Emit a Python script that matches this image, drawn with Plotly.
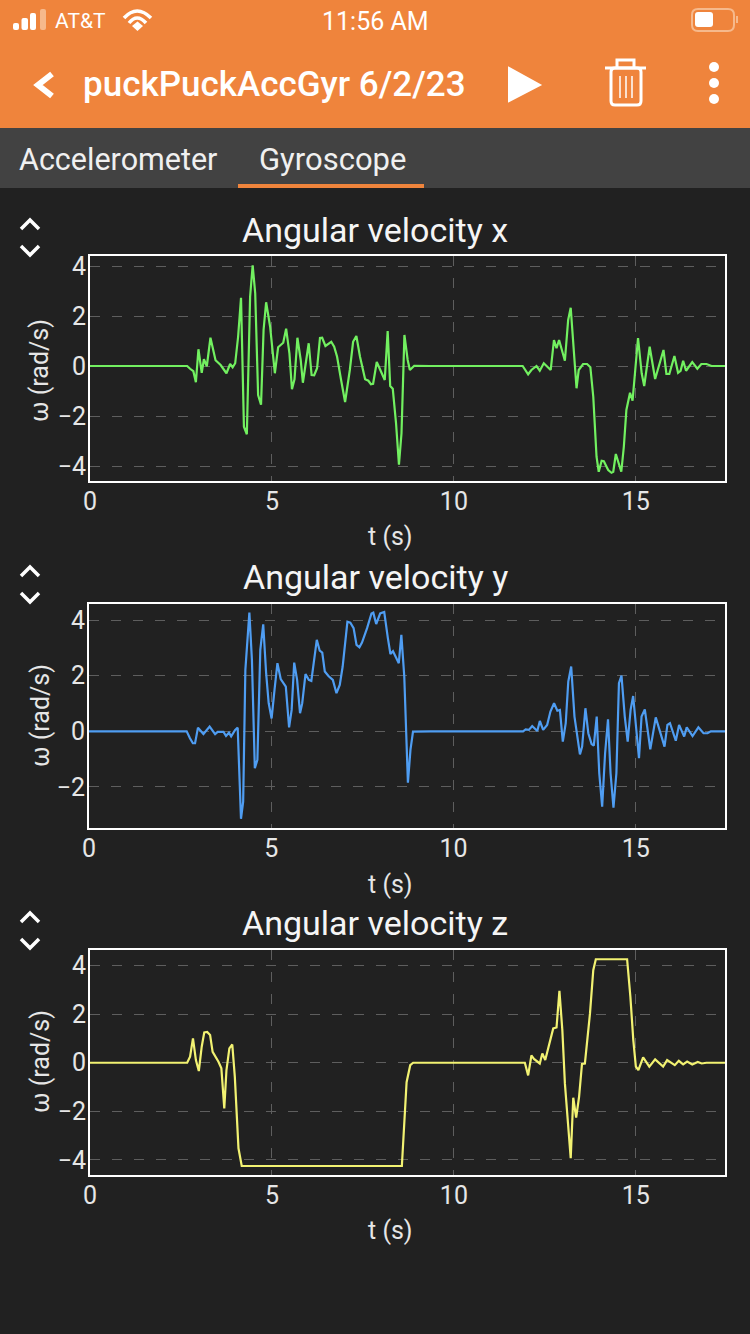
import plotly.graph_objects as go

t_x = [0,2.67,2.75,2.84,2.91,2.98,3.07,3.13,3.21,3.31,3.45,3.59,3.75,3.85,3.92,3.99,4.07,4.15,4.23,4.31,4.40,4.47,4.54,4.62,4.70,4.77,4.84,4.95,5.08,5.17,5.31,5.39,5.48,5.55,5.62,5.70,5.79,5.85,6.01,6.09,6.16,6.24,6.32,6.38,6.47,6.63,6.71,6.79,6.90,7.01,7.14,7.23,7.32,7.42,7.56,7.65,7.72,7.78,7.88,7.94,8.10,8.18,8.25,8.32,8.41,8.49,8.56,8.64,8.73,8.79,8.91,9.34,
       11.89,12.04,12.13,12.27,12.36,12.47,12.66,12.75,12.82,12.89,13.05,13.14,13.21,13.37,13.43,13.55,13.66,13.75,13.83,13.92,13.98,14.06,14.12,14.24,14.33,14.38,14.45,14.6,14.67,14.74,14.84,14.91,15.06,15.16,15.23,15.38,15.53,15.76,15.84,15.92,16.06,16.16,16.23,16.3,16.38,16.55,16.69,16.8,16.94,17.08,17.45]
w_x = [0,0,-.11,-.21,-.65,.67,-.27,.27,-.01,1.13,.23,.04,-.29,.08,-.05,.11,1.17,2.73,-2.43,-2.73,2.77,4.03,2.91,-1.16,-1.55,1.44,2.55,1.57,-.29,.75,.93,1.49,.51,-.93,-.53,1.13,.24,-.67,.91,-.36,-.37,-.09,1.12,1.13,.80,.97,.77,.37,-.56,-1.44,-.16,.97,1.2,.37,-.53,-.59,-.73,-.71,.16,-.03,-.56,1.4,-.8,-.91,-2.29,-3.95,-2.69,1.24,.24,-.16,.01,0,
       0,-.33,-.16,0,-.19,.11,-.16,1.04,.71,1.04,.21,1.84,2.33,-.89,-.16,.08,.08,-.05,-1.23,-3.63,-4.23,-3.79,-3.81,-4.16,-4.27,-4.23,-3.52,-4.23,-3.23,-1.76,-1.07,-1.39,1.12,-.29,-.8,.77,-.52,.64,-.32,-.32,.4,-.27,-.19,.21,-.19,.16,-.11,.08,.08,0,0]

t_y = [0,2.68,2.77,2.85,2.91,2.99,3.14,3.31,3.46,3.53,3.69,3.76,3.84,3.9,4.01,4.08,4.17,4.23,4.29,4.4,4.47,4.55,4.62,4.7,4.78,4.86,4.93,5.01,5.09,5.17,5.26,5.4,5.49,5.56,5.63,5.71,5.79,5.85,5.94,6.03,6.1,6.25,6.33,6.4,6.47,6.57,6.69,6.79,6.88,6.96,7.09,7.17,7.26,7.34,7.42,7.49,7.63,7.75,7.8,7.88,7.99,8.1,8.2,8.27,8.34,8.5,8.57,8.65,8.75,8.82,8.89,9.37,
       11.91,11.98,12.07,12.16,12.3,12.37,12.46,12.57,12.66,12.76,12.85,12.92,13.0,13.08,13.15,13.23,13.32,13.4,13.47,13.53,13.62,13.7,13.79,13.85,13.93,14.0,14.08,14.16,14.24,14.31,14.39,14.47,14.54,14.61,14.7,14.78,14.86,14.93,15.01,15.09,15.16,15.25,15.4,15.55,15.79,15.87,15.94,16.1,16.19,16.33,16.4,16.56,16.72,16.86,16.97,17.06,17.45]
w_y = [0,0,-.25,-.43,-.43,.13,-.1,.17,-.1,-.02,-.02,-.17,-.05,-.18,.05,.13,-3.15,-2.53,2.21,4.27,2.57,-1.33,-1.03,2.93,3.85,2.09,1.01,.46,1.49,2.45,1.88,1.61,.14,.77,2.47,1.85,.65,1.01,2.06,1.85,1.81,3.29,2.9,2.83,2.15,1.99,1.85,1.37,1.67,2.33,3.94,3.91,3.71,3.11,3.02,3.19,3.71,4.24,4.27,3.86,4.24,4.29,3.35,2.78,2.88,2.45,3.47,1.97,-1.85,-.67,-.01,0,
       0,.07,.05,.19,.01,.37,.05,.23,.71,1.01,.74,.77,-.37,.29,1.79,2.33,.53,-.31,-.83,-.55,.83,-.07,-.46,-.52,.53,-1.51,-2.71,-.79,.43,-1.51,-2.75,-1.51,1.73,2.0,.53,-.37,.77,1.27,.05,-.97,.53,.79,-.65,.5,-.55,.23,.29,-.34,.23,-.19,.14,-.17,.14,-.07,-.07,0,0]

t_z = [0,2.67,2.75,2.83,2.91,2.99,3.07,3.14,3.22,3.3,3.37,3.53,3.61,3.69,3.75,3.83,3.91,3.98,4.08,4.17,8.57,8.62,8.7,8.8,8.88,
       11.95,12.04,12.13,12.2,12.36,12.43,12.51,12.73,12.82,12.9,12.98,13.05,13.21,13.28,13.36,13.44,13.52,13.6,13.74,13.83,13.9,14.76,14.85,14.93,15.0,15.07,15.2,15.37,15.53,15.75,15.86,16.07,16.18,16.3,16.41,16.55,16.7,16.81,16.94,17.45]
w_z = [0,0,.25,1.0,.11,-.34,.66,1.25,1.27,1.14,.45,.04,-.23,-1.88,-.3,.59,.75,-.58,-3.52,-4.25,-4.25,-3.0,-.8,-.1,0,
       0,-.52,.3,.16,-.03,.38,.11,1.41,1.45,2.96,1.34,-.85,-3.93,-1.44,-2.26,-1.4,-.05,-.03,2.03,3.81,4.26,4.26,2.71,.93,-.16,-.3,.22,-.16,.14,-.16,.11,-.1,.08,-.07,.05,-.07,.03,-.03,0,0]

x_ticks = [0, 5, 10, 15]
y_ticks = [[-4, -2, 0, 2, 4], [-2, 0, 2, 4], [-4, -2, 0, 2, 4]]
y_ranges = [[-4.6, 4.4], [-3.48, 4.58], [-4.62, 4.64]]
titles = ["Angular velocity x", "Angular velocity y", "Angular velocity z"]
colors = ["#72F060", "#4F9DF2", "#F2F272"]
series = [(t_x, w_x), (t_y, w_y), (t_z, w_z)]
boxes = [(90, 725, 256, 481), (89, 725, 604, 828), (90, 725, 950, 1175)]

W, H = 750, 1334
FONT = "Roboto"
def px(x): return x / W
def py(y): return 1 - y / H
def c(a, b): return f"{px(a):.5f},{py(b):.5f}"
def P(*pts, close=False):
    return "M" + " L".join(c(a, b) for a, b in pts) + (" Z" if close else "")
def rr(x0, y0, x1, y1, r):
    return (f"M{c(x0+r,y0)} L{c(x1-r,y0)} Q{c(x1,y0)} {c(x1,y0+r)} L{c(x1,y1-r)} Q{c(x1,y1)} {c(x1-r,y1)} "
            f"L{c(x0+r,y1)} Q{c(x0,y1)} {c(x0,y1-r)} L{c(x0,y0+r)} Q{c(x0,y0)} {c(x0+r,y0)} Z")

fig = go.Figure()
layout = dict(width=W, height=H, margin=dict(l=0, r=0, t=0, b=0), autosize=False,
              paper_bgcolor="#212121", plot_bgcolor="#212121", showlegend=False)
for i, ((tv, wv), col, b, yt, yr) in enumerate(zip(series, colors, boxes, y_ticks, y_ranges)):
    n = "" if i == 0 else str(i + 1)
    fig.add_trace(go.Scatter(x=tv, y=wv, mode="lines", line=dict(color=col, width=2.2), xaxis=f"x{n}", yaxis=f"y{n}", hoverinfo="skip"))
    common = dict(zeroline=False, automargin=False, showgrid=True, gridcolor="#5E5E5E", griddash="10px,12px", gridwidth=1.2,
                  showline=True, mirror=True, linecolor="#FFFFFF", linewidth=2, ticks="",
                  tickfont=dict(family=FONT, size=25, color="#E6E6E6"))
    layout[f"xaxis{n}"] = dict(domain=[px(b[0]), px(b[1])], range=[0, 17.45], anchor=f"y{n}", tickvals=x_ticks, ticklabelstandoff=-3, **common)
    layout[f"yaxis{n}"] = dict(domain=[py(b[3]), py(b[2])], range=yr, anchor=f"x{n}", tickvals=yt, ticklabelstandoff=-3, **common)

shapes = []
def rect(x0, y0, x1, y1, fill):
    shapes.append(dict(type="rect", xref="paper", yref="paper", x0=px(x0), x1=px(x1), y0=py(y0), y1=py(y1),
                       fillcolor=fill, line=dict(width=0), layer="below"))
def path(d, color, lw=0, fill=None):
    shapes.append(dict(type="path", xref="paper", yref="paper", path=d, fillcolor=fill or "rgba(0,0,0,0)",
                       line=dict(color=color, width=lw), layer="above"))

rect(0, 0, W, 128, "#EF843C")
rect(0, 128, W, 188, "#424242")
rect(238, 184, 424, 188, "#EF843C")
for x0, x1, top, col in [(13, 19, 23, "#FFFFFF"), (21.5, 28, 18, "#FFFFFF"), (30, 36, 13, "#FFFFFF"), (40, 46, 9, "#F6B98C")]:
    path(rr(x0, top, x1, 30, 2), col, 0, col)
# wifi
path(f"M{c(124,18)} Q{c(137,4)} {c(151,18)}", "#FFFFFF", 3.5)
path(f"M{c(129,23)} Q{c(137,13)} {c(146,23)}", "#FFFFFF", 3.5)
path(P((132, 26), (137.5, 21.5), (143, 26), (137.5, 31), close=True), "#FFFFFF", 0, "#FFFFFF")
# battery
path(rr(692, 9, 734, 31, 6), "#F6B98C", 2)
path(rr(695, 12, 713, 27, 3), "#FFFFFF", 0, "#FFFFFF")
rect(736, 16, 738, 23, "#F6B98C")
# back chevron
path(P((52, 74), (38, 85), (52, 96)), "#FFFFFF", 6)
# play
path(P((509, 68), (540, 85), (509, 101), close=True), "#FFFFFF", 2, "#FFFFFF")
# trash
path(P((605, 68), (646, 68)), "#FFFFFF", 3)
path(P((617, 68), (617, 60), (634, 60), (634, 68)), "#FFFFFF", 3)
path(rr(611, 68, 641, 105, 4), "#FFFFFF", 3)
for x in (620, 626, 632):
    path(P((x, 76), (x, 98)), "#FFFFFF", 1.5)
# menu dots
for y in (67, 83, 99):
    shapes.append(dict(type="circle", xref="paper", yref="paper", x0=px(709), x1=px(719), y0=py(y - 5), y1=py(y + 5),
                       fillcolor="#FFFFFF", line=dict(width=0)))
# stepper chevrons
for y in (224, 571, 917):
    path(P((21, y + 5), (30, y - 4), (39, y + 5)), "#FFFFFF", 3.5)
    path(P((21, y + 22), (30, y + 31), (39, y + 22)), "#FFFFFF", 3.5)

def text(x, y, s, size, color="#FFFFFF", anchor="left", weight=None, angle=0):
    f = dict(family=FONT, size=size, color=color)
    if weight: f["weight"] = weight
    return dict(xref="paper", yref="paper", x=px(x), y=py(y), text=s, showarrow=False, xanchor=anchor, yanchor="middle", font=f, textangle=angle)

ann = [text(53, 21, "AT&T", 21), text(375, 21, "11:56 AM", 25, anchor="center"),
       text(81, 85, "puckPuckAccGyr 6/2/23", 35, weight=500),
       text(17, 159, "Accelerometer", 30.5, color="#F0F0F0"), text(257, 159, "Gyroscope", 31, color="#F0F0F0")]
for t, y in zip(titles, (230, 577, 923)):
    ann.append(text(375, y, t, 34, anchor="center", color="#F5F5F5"))
for y in (537, 884, 1230):
    ann.append(text(390, y, "t (s)", 25, anchor="center", color="#E6E6E6"))
for y in (371, 716, 1062):
    ann.append(text(40, y, "ω (rad/s)", 25, anchor="center", color="#E6E6E6", angle=-90))

fig.update_layout(**layout, shapes=shapes, annotations=ann)
fig.write_html("out.html", config=dict(displayModeBar=False),
               post_script="document.body.style.margin='0';document.body.style.overflow='hidden';document.body.style.background='#212121';")
